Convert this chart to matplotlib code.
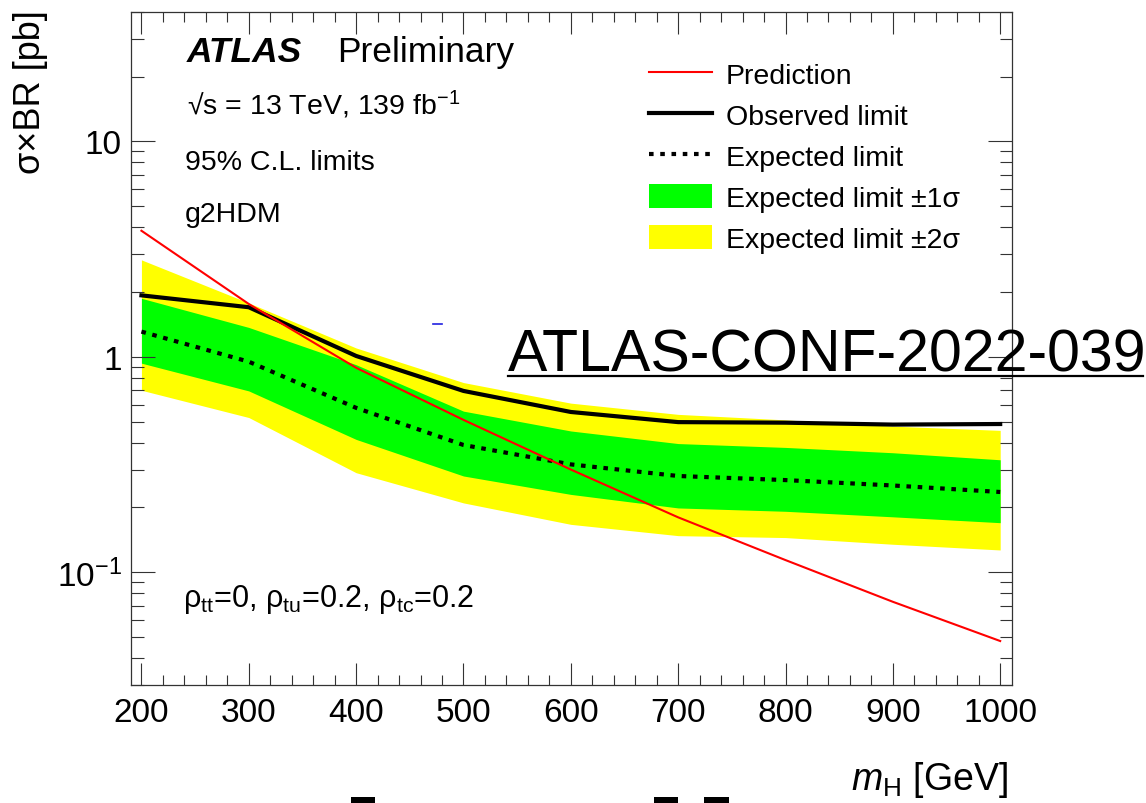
import numpy as np
import matplotlib
matplotlib.use("Agg")
import matplotlib.pyplot as plt
from matplotlib.lines import Line2D
from matplotlib.patches import Patch, Rectangle

plt.rcParams['font.family'] = ['Liberation Sans', 'DejaVu Sans']
plt.rcParams['mathtext.fontset'] = 'custom'
plt.rcParams['mathtext.rm'] = 'Liberation Sans'
plt.rcParams['mathtext.it'] = 'Liberation Sans:italic'
plt.rcParams['mathtext.bf'] = 'Liberation Sans:bold'

# values
mass = [200, 300, 400, 500, 600, 700, 800, 900, 1000]
prediction = [3.85, 1.76, 0.89, 0.51, 0.30, 0.18, 0.114, 0.073, 0.048]
observed = [1.93, 1.70, 1.01, 0.695, 0.555, 0.498, 0.495, 0.485, 0.488]
expected = [1.31, 0.95, 0.58, 0.39, 0.317, 0.28, 0.268, 0.253, 0.236]
sig1_lo = [0.935, 0.695, 0.414, 0.28, 0.23, 0.199, 0.192, 0.181, 0.17]
sig1_hi = [1.87, 1.37, 0.92, 0.56, 0.453, 0.396, 0.38, 0.359, 0.333]
sig2_lo = [0.70, 0.523, 0.29, 0.21, 0.167, 0.148, 0.145, 0.135, 0.127]
sig2_hi = [2.82, 1.78, 1.10, 0.76, 0.61, 0.541, 0.51, 0.477, 0.456]

W, H = 1146, 804
fig = plt.figure(figsize=(W / 100, H / 100), dpi=100)
ax = fig.add_axes([130.7 / W, 1 - 686 / H, (1012 - 130.7) / W, (686 - 12.7) / H])

ax.fill_between(mass, sig2_lo, sig2_hi, color='#ffff00', lw=0)
ax.fill_between(mass, sig1_lo, sig1_hi, color='#00ff00', lw=0)
ax.plot(mass, expected, color='black', lw=3, ls=(0, (1.1, 1.6)))
ax.plot(mass, observed, color='black', lw=3)
ax.plot(mass, prediction, color='#ff0000', lw=1.5)

ax.set_yscale('log')
ax.set_xlim(190, 1011)
ax.set_ylim(0.03, 40)
ax.set_xticks(np.arange(200, 1001, 100))
ax.set_xticks(np.arange(200, 1001, 20), minor=True)
ax.set_yticks([0.1, 1, 10])
ax.set_yticklabels(['$10^{-1}$', '1', '10'])
ax.tick_params(which='both', direction='in', top=True, right=True, width=0.8,
               color='#333333', labelsize=24)
ax.tick_params(axis='x', which='major', length=15.6, pad=8.5)
ax.tick_params(axis='x', which='minor', length=7.2)
ax.tick_params(axis='y', which='major', length=17, pad=6.5)
ax.tick_params(axis='y', which='minor', length=9, labelleft=False)
for s in ax.spines.values():
    s.set_linewidth(0.9)
    s.set_color('#333333')

handles = [Line2D([], [], color='#ff0000', lw=1.5),
           Line2D([], [], color='black', lw=3),
           Line2D([], [], color='black', lw=3, ls=(0, (1.1, 1.6))),
           Patch(color='#00ff00', lw=0),
           Patch(color='#ffff00', lw=0)]
labels = ['Prediction', 'Observed limit', 'Expected limit',
          'Expected limit \u00b11\u03c3', 'Expected limit \u00b12\u03c3']
fig.legend(handles, labels, loc='upper left', bbox_to_anchor=(649 / W, 1 - 62 / H),
           frameon=False, fontsize=20.5, handlelength=2.2, handleheight=0.95,
           handletextpad=0.5, labelspacing=0.45, borderpad=0, borderaxespad=0)

fig.text(187 / W, 1 - 61.7 / H, 'ATLAS', fontsize=25.5, fontweight='bold',
         fontstyle='italic', va='baseline')
fig.text(337 / W, 1 - 61.7 / H, 'Preliminary', fontsize=25.5, va='baseline')
fig.text(187 / W, 1 - 115 / H, '\u221as = 13 TeV, 139 fb$^{-1}$', fontsize=20.5, va='baseline')
fig.text(185 / W, 1 - 170 / H, '95% C.L. limits', fontsize=20.5, va='baseline')
fig.text(185 / W, 1 - 221.7 / H, 'g2HDM', fontsize=20.5, va='baseline')
fig.text(183 / W, 1 - 606.7 / H,
         '\u03c1$_{\\mathrm{tt}}$=0, \u03c1$_{\\mathrm{tu}}$=0.2, \u03c1$_{\\mathrm{tc}}$=0.2',
         fontsize=22, va='baseline')

fig.text(31 / W, 1 - 10 / H, '\u03c3\u00d7BR [pb]', fontsize=26, rotation=90,
         ha='center', va='top')
fig.text(1008 / W, 1 - 790 / H, '$m_{\\mathrm{H}}$ [GeV]', fontsize=27,
         ha='right', va='baseline')

# reference stamp drawn over the plot
fig.text(508 / W, 1 - 371.7 / H, 'ATLAS-CONF-2022-039', fontsize=42.5, va='baseline')
fig.add_artist(Line2D([508 / W, 1143 / W], [1 - 377 / H, 1 - 377 / H],
                      color='black', lw=1.6))

# screenshot leftovers
fig.add_artist(Line2D([433 / W, 441.5 / W], [1 - 325 / H, 1 - 325 / H], color='#2020e0', lw=1.2))
for x0, x1 in [(351, 375), (654, 678), (704, 729)]:
    fig.add_artist(Rectangle((x0 / W, 0), (x1 - x0) / W, 6 / H, color='black', lw=0))

fig.savefig('out.png', dpi=100)
